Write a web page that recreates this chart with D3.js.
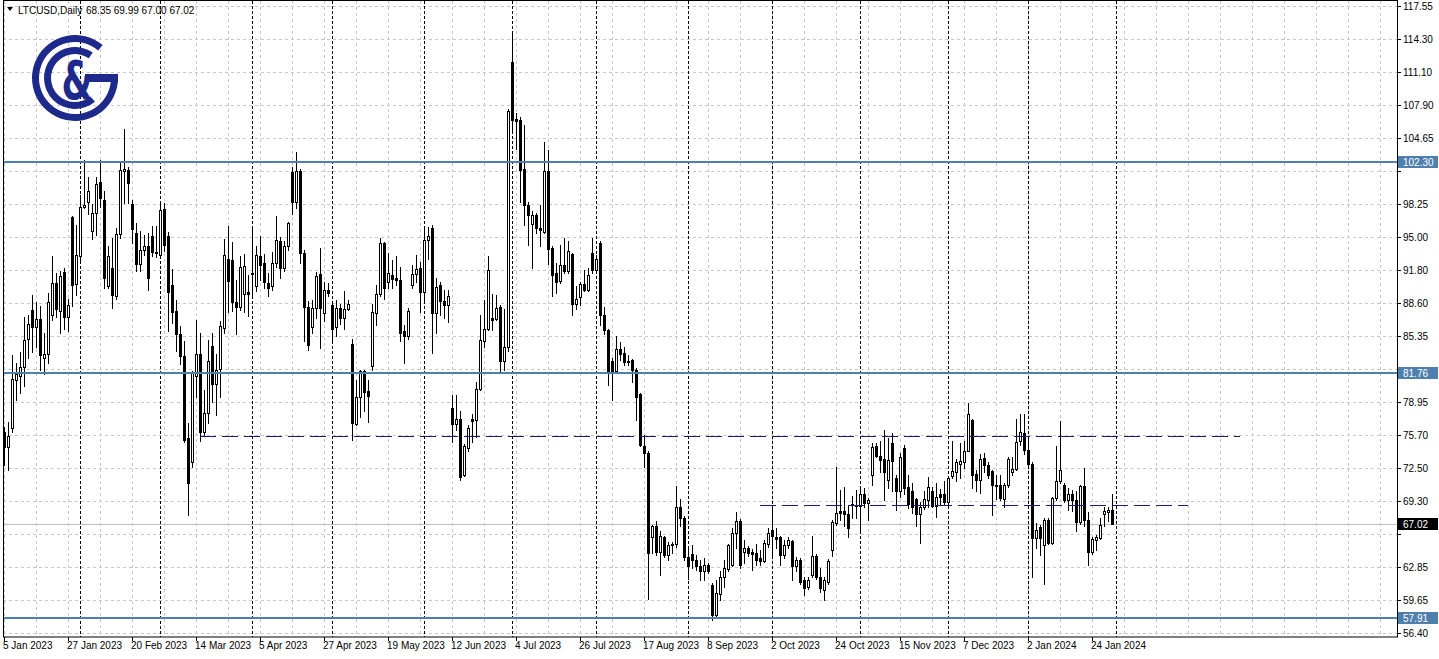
<!DOCTYPE html>
<html><head><meta charset="utf-8">
<script src="https://cdn.jsdelivr.net/npm/d3@7"></script>
<style>
html,body{margin:0;padding:0;background:#fff;overflow:hidden;}
svg{display:block;font-family:"Liberation Sans",Arial,sans-serif;}
</style></head><body>
<svg id="chart" width="1439" height="659"></svg>
<script>
// ---------- data ----------
const symbolName = "LTCUSD,Daily";
const headerValues = ["68.35", "69.99", "67.00", "67.02"];
const firstDay = "2023-01-05";
const lastDay = "2024-01-31";
const holidays = ["2023-12-25", "2024-01-01"];

const open = [76.0,74.5,76.4,81.1,81.4,82.3,85.1,87.9,86.2,87.0,83.2,83.6,87.4,90.5,87.8,91.6,87.2,96.9,90.4,93.1,
97.9,98.4,95.6,97.3,100.4,98.6,90.2,92.0,89.2,95.3,101.4,101.5,98.2,95.4,92.4,93.7,94.1,95.1,93.5,93.2,
97.7,95.1,90.3,87.8,85.5,83.4,75.4,73.1,81.4,83.6,76.0,77.8,84.4,80.7,82.1,86.1,92.9,92.8,88.7,88.2,
89.4,89.6,91.4,90.2,93.1,92.5,90.5,90.2,92.5,94.6,92.0,94.1,101.3,98.4,101.4,93.4,88.2,86.2,88.1,91.4,
87.6,89.8,88.4,86.2,88.1,87.1,88.0,84.6,76.8,79.4,81.9,80.0,82.4,87.6,89.4,94.4,90.6,91.3,91.0,90.8,
85.8,85.3,90.3,91.4,92.0,89.6,94.7,95.9,87.6,90.3,88.8,88.4,78.3,76.8,77.3,71.8,74.4,77.3,77.2,80.2,
84.9,86.0,87.1,87.0,88.2,82.9,84.3,112.1,106.5,106.4,101.6,98.1,96.3,97.1,95.9,95.5,101.4,93.9,91.5,90.7,
92.3,91.7,93.3,88.5,89.1,90.4,89.8,93.4,91.8,94.4,87.4,85.9,82.9,81.9,84.1,83.7,82.9,83.0,82.0,79.7,
74.6,73.9,65.8,66.8,64.3,65.8,64.0,65.0,65.1,68.7,67.6,63.8,64.1,63.5,62.9,62.4,63.0,61.1,58.2,60.2,
61.9,62.6,63.0,66.1,67.3,64.3,64.7,64.3,64.2,63.7,63.4,65.1,66.4,65.8,65.8,64.0,65.0,65.4,62.9,63.5,
61.6,60.9,62.1,63.9,61.9,60.6,61.4,64.5,67.1,68.3,68.3,68.0,68.9,68.9,68.8,69.9,69.1,71.8,74.6,73.7,
73.4,71.3,74.9,71.5,70.2,74.4,70.6,70.2,69.5,68.0,68.7,69.4,70.2,68.8,69.9,69.9,69.2,71.7,72.1,72.9,
73.1,74.1,77.2,71.9,71.3,73.5,72.8,72.2,70.8,70.8,69.5,70.8,72.1,72.4,75.1,75.9,74.2,72.9,65.7,66.7,
65.0,67.4,65.2,69.6,71.2,70.8,69.4,69.9,69.4,67.2,70.7,67.4,64.3,65.5,65.7,68.0,68.2,68.35];
const high = [76.5,77.0,83.5,82.7,83.8,87.2,87.4,89.3,88.7,88.3,85.6,89.5,93.1,91.5,91.7,92.0,89.0,97.0,96.2,99.1,
102.5,100.8,98.2,100.8,102.5,99.5,94.1,94.9,95.9,102.4,105.5,101.8,98.6,96.4,95.6,95.2,95.4,96.1,96.1,98.2,
98.3,95.5,91.9,88.9,86.3,84.9,76.9,81.9,86.9,85.6,80.1,85.0,85.6,83.6,86.8,94.8,96.1,94.5,90.8,93.1,
93.3,91.3,95.9,94.1,95.1,93.3,91.5,93.5,97.0,95.0,94.6,96.5,101.8,103.3,101.6,93.7,88.8,88.9,91.6,93.9,
90.6,90.5,88.7,88.9,88.5,89.7,88.9,85.1,81.1,82.0,82.0,81.1,88.5,90.3,94.9,94.5,93.4,92.8,93.1,92.1,
86.4,88.1,92.3,93.2,92.6,95.9,96.0,96.2,91.0,90.6,89.8,89.8,79.6,79.6,78.0,74.8,76.7,77.7,80.9,87.4,
88.9,93.1,89.4,89.3,88.4,88.0,107.5,115.0,107.1,106.7,105.9,98.4,97.5,97.3,98.1,104.3,103.5,94.1,92.5,94.2,
94.9,94.6,93.4,90.2,90.6,91.8,92.0,94.9,93.2,94.6,88.2,86.0,83.2,85.3,84.8,84.3,83.5,83.1,82.2,79.8,
75.7,74.1,66.9,67.3,66.3,65.9,65.3,65.3,70.7,69.5,67.8,64.8,65.0,64.0,63.5,63.7,63.2,61.3,61.6,62.4,
63.5,65.1,66.6,68.2,67.5,65.5,64.9,64.6,65.1,64.5,65.5,66.6,68.9,66.6,65.9,65.5,65.8,65.5,63.8,63.7,
61.9,61.9,65.9,64.1,62.7,61.9,63.6,67.4,72.6,70.3,70.6,68.9,69.8,70.3,70.5,70.5,69.6,74.9,74.9,75.1,
76.2,75.4,75.9,71.8,73.9,74.7,71.8,71.0,69.6,69.2,70.2,71.6,70.6,71.0,70.4,71.2,71.7,75.1,73.4,74.9,
75.1,78.8,77.3,72.3,73.8,73.9,73.1,72.3,71.8,71.8,71.0,73.6,73.6,77.3,77.7,77.7,75.4,73.1,67.1,66.9,
67.6,67.6,69.7,74.6,77.1,71.0,70.5,70.3,70.2,70.8,72.5,68.2,65.8,66.0,67.6,68.7,68.7,69.99];
const low = [72.8,72.3,76.0,79.1,79.8,80.5,83.2,83.8,84.3,82.0,81.6,82.7,86.9,87.2,85.6,86.0,85.8,88.3,89.3,92.7,
97.8,97.2,94.8,95.2,97.9,90.0,90.0,88.1,89.0,94.9,98.3,98.3,94.4,91.7,91.7,93.2,89.8,93.1,93.0,93.1,
93.6,85.8,86.6,83.9,82.6,75.0,67.9,72.6,79.4,75.1,75.6,76.9,78.9,77.6,79.4,85.6,87.7,87.8,85.5,87.9,
87.7,87.3,89.2,89.7,90.8,90.0,89.2,89.8,92.1,91.0,91.7,93.7,97.2,97.8,92.5,84.9,84.0,85.6,87.1,84.2,
86.8,89.2,85.0,85.3,86.5,86.0,87.9,75.2,76.7,77.5,78.0,77.0,82.0,86.4,89.2,89.0,90.0,90.0,90.3,84.9,
82.7,85.1,90.0,90.6,87.7,88.7,92.9,83.7,85.6,87.4,87.1,86.7,75.0,76.2,71.3,71.7,74.1,75.0,75.5,80.1,
84.3,85.9,85.9,86.9,81.7,82.0,83.9,105.3,103.6,98.4,96.2,94.2,92.0,95.4,94.1,95.4,92.4,89.2,89.5,90.5,
91.5,91.5,87.4,88.0,88.4,89.7,89.7,91.5,91.5,86.4,85.5,80.6,79.1,81.7,83.0,82.5,82.5,80.9,77.2,74.6,
72.6,59.7,64.2,64.0,62.1,63.8,63.5,64.2,64.8,66.8,63.5,61.7,62.7,62.5,61.6,61.6,62.2,57.7,58.0,59.6,
60.9,62.4,62.9,64.7,62.7,63.2,63.9,62.5,63.0,63.0,63.3,64.8,63.7,64.7,63.0,63.7,64.7,61.6,62.4,61.2,
60.1,60.7,61.9,61.7,60.4,59.6,61.2,63.9,66.9,67.4,66.8,65.8,67.6,67.6,66.3,68.7,67.4,70.8,73.6,72.1,
69.4,70.5,70.2,68.4,69.7,69.9,68.6,68.1,66.8,65.2,68.5,68.7,68.7,67.7,68.9,68.9,69.0,71.5,71.2,71.5,
72.5,74.1,70.5,70.2,70.0,72.1,71.5,67.9,69.5,69.4,68.7,70.6,71.8,72.3,74.7,73.8,72.6,61.9,64.7,64.0,
61.2,65.1,65.1,69.4,71.0,69.2,68.4,68.3,66.3,67.0,66.8,63.0,64.1,64.5,65.6,66.8,67.3,67.00];
const close = [74.5,75.6,81.2,81.6,82.3,85.0,86.5,86.2,87.0,83.5,83.6,88.7,90.5,88.0,91.2,87.2,88.4,90.3,93.2,97.9,
98.1,99.5,97.3,100.2,98.8,91.0,93.1,89.3,95.3,101.5,101.6,100.3,95.8,92.4,93.7,94.1,91.0,93.5,93.4,97.6,
94.2,89.6,87.7,85.5,83.4,75.2,71.0,81.7,83.6,76.0,77.8,82.9,80.7,82.0,86.3,93.2,90.7,88.7,88.2,92.1,
92.2,89.4,91.5,93.2,92.3,90.6,90.0,92.5,94.7,92.0,94.1,96.4,98.4,101.4,93.4,88.2,84.5,88.1,91.2,88.1,
89.8,89.5,86.0,88.1,87.1,88.0,88.5,76.9,79.4,81.9,79.9,79.5,87.7,89.4,94.4,90.0,91.5,90.9,90.8,85.6,
85.3,87.8,91.4,91.9,89.6,94.7,95.1,87.6,90.1,88.8,88.4,89.2,76.8,77.3,71.6,74.6,76.4,77.1,80.2,85.0,
86.0,91.8,86.9,88.1,82.9,84.3,107.3,106.4,106.3,101.5,98.1,97.1,97.1,95.9,95.7,101.4,93.8,91.3,90.6,92.3,
91.7,93.6,88.5,89.0,90.4,89.8,91.3,91.8,92.9,87.4,85.9,81.9,81.9,84.1,83.6,82.8,82.8,82.0,79.4,74.7,
73.9,64.2,66.8,64.3,65.9,64.0,65.0,65.1,68.7,67.6,63.8,62.9,63.5,62.9,62.4,63.0,62.4,58.2,60.3,61.9,
62.7,65.0,66.1,67.3,63.0,64.7,64.2,64.1,63.5,63.4,65.2,66.1,65.9,65.6,64.0,65.0,65.5,62.9,63.5,61.4,
60.8,61.6,63.9,61.9,60.8,61.6,63.4,67.2,68.1,68.1,68.0,66.6,69.0,68.8,69.9,69.1,69.4,74.5,73.7,73.3,
72.1,73.3,73.2,70.2,73.6,70.5,69.0,68.7,68.0,68.7,69.5,70.6,68.8,69.7,69.7,69.2,71.5,72.2,73.1,73.2,
74.1,77.7,71.8,71.3,73.4,72.8,71.8,70.8,70.7,69.6,70.8,73.4,72.4,75.0,76.0,74.2,72.9,65.7,66.4,65.7,
67.4,65.2,69.6,71.2,72.3,69.4,69.9,69.4,67.2,70.7,67.4,64.3,65.6,65.8,66.9,68.3,68.35,67.02];

const priceTicks = [117.55,114.30,111.10,107.90,104.65,101.45,98.25,95.00,91.80,88.60,85.35,82.15,78.95,75.70,72.50,69.30,66.05,62.85,59.65,56.40];
const dateTickLabels = ["5 Jan 2023","27 Jan 2023","20 Feb 2023","14 Mar 2023","5 Apr 2023","27 Apr 2023","19 May 2023","12 Jun 2023","4 Jul 2023","26 Jul 2023","17 Aug 2023","8 Sep 2023","2 Oct 2023","24 Oct 2023","15 Nov 2023","7 Dec 2023","2 Jan 2024","24 Jan 2024"];
const supportResistance = [102.30, 81.76, 57.91];
const lastPrice = 67.02;
const trendLevels = [
  {value: 75.62, fromBar: 49, toBar: 309},
  {value: 68.85, fromBar: 189, toBar: 296}
];

// ---------- build dates (trading days) ----------
const parse = d3.utcParse("%Y-%m-%d");
const fmtKey = d3.utcFormat("%Y-%m-%d");
const dates = d3.utcDay.range(parse(firstDay), d3.utcDay.offset(parse(lastDay), 1))
  .filter(d => d.getUTCDay() !== 0 && d.getUTCDay() !== 6 && !holidays.includes(fmtKey(d)));
const bars = dates.map((d, i) => ({date: d, i, o: open[i], h: high[i], l: low[i], c: close[i]}));

// ---------- layout ----------
const W = 1439, H = 659;
const plotL = 3, plotR = 1397, plotT = 1, plotB = 637;
const svg = d3.select("#chart");
const x = d3.scaleLinear().domain([0, 348.25]).range([4, 1397]);
const y = d3.scaleLinear().domain([56.40, 117.55]).range([633, 5.6]);
const px = v => Math.round(x(v));
const py = v => Math.round(y(v));

svg.append("rect").attr("width", W).attr("height", H).attr("fill", "#fff");

svg.append("clipPath").attr("id", "plotclip").append("rect")
  .attr("x", plotL).attr("y", plotT).attr("width", plotR - plotL).attr("height", plotB - plotT);
const plot = svg.append("g").attr("clip-path", "url(#plotclip)");

// grid
const gridColor = "#c8c8c8";
plot.selectAll("line.hgrid").data(priceTicks).join("line")
  .attr("x1", plotL).attr("x2", plotR)
  .attr("y1", d => py(d) + 0.5).attr("y2", d => py(d) + 0.5)
  .attr("stroke", gridColor).attr("stroke-dasharray", "3,3").attr("stroke-width", 1);
const vgrid = d3.range(0, 349, 8);
plot.selectAll("line.vgrid").data(vgrid).join("line")
  .attr("x1", d => px(d) + 0.5).attr("x2", d => px(d) + 0.5)
  .attr("y1", plotT).attr("y2", plotB)
  .attr("stroke", gridColor).attr("stroke-dasharray", "3,3").attr("stroke-width", 1);

// month separators
const sepIdx = [];
bars.forEach((b, i) => { if (i > 0 && b.date.getUTCMonth() !== bars[i - 1].date.getUTCMonth()) sepIdx.push(i); });
sepIdx.push(bars.length); // next month start (Feb 2024)
plot.selectAll("line.sep").data(sepIdx).join("line")
  .attr("x1", d => px(d) + 0.5).attr("x2", d => px(d) + 0.5)
  .attr("y1", plotT).attr("y2", plotB)
  .attr("stroke", "#000").attr("stroke-dasharray", "3,2").attr("stroke-width", 1);

// last price line
plot.append("line").attr("x1", plotL).attr("x2", plotR)
  .attr("y1", py(lastPrice) + 0.5).attr("y2", py(lastPrice) + 0.5)
  .attr("stroke", "#c0c0c0").attr("stroke-width", 1);

// candles
const cg = plot.append("g");
const candle = cg.selectAll("g.c").data(bars).join("g");
candle.append("line")
  .attr("x1", d => px(d.i) + 0.5).attr("x2", d => px(d.i) + 0.5)
  .attr("y1", d => py(d.h)).attr("y2", d => py(d.l) + 1)
  .attr("stroke", "#000").attr("stroke-width", 1);
candle.each(function(d) {
  const g = d3.select(this);
  const top = py(Math.max(d.o, d.c)), bot = py(Math.min(d.o, d.c));
  const cx = px(d.i);
  if (bot - top < 1) {
    g.append("line").attr("x1", cx - 1).attr("x2", cx + 2)
      .attr("y1", top + 0.5).attr("y2", top + 0.5).attr("stroke", "#000");
  } else {
    g.append("rect").attr("x", cx - 0.5).attr("y", top + 0.5)
      .attr("width", 2).attr("height", bot - top)
      .attr("fill", d.c >= d.o ? "#fff" : "#000").attr("stroke", "#000").attr("stroke-width", 1);
  }
});

// horizontal support/resistance lines
plot.selectAll("line.sr").data(supportResistance).join("line")
  .attr("x1", plotL).attr("x2", plotR)
  .attr("y1", d => py(d)).attr("y2", d => py(d))
  .attr("stroke", "#4f7fad").attr("stroke-width", 2);

// dashed trend levels
plot.selectAll("line.tl").data(trendLevels).join("line")
  .attr("x1", d => px(d.fromBar)).attr("x2", d => px(d.toBar))
  .attr("y1", d => py(d.value) + 0.5).attr("y2", d => py(d.value) + 0.5)
  .attr("stroke", "#1c1c78").attr("stroke-width", 1).attr("stroke-dasharray", "16,6");

// frame
svg.append("rect").attr("x", plotL + 0.5).attr("y", plotT - 0.5).attr("width", plotR - plotL).attr("height", plotB - plotT + 0.5)
  .attr("fill", "none").attr("stroke", "#000").attr("stroke-width", 1);

// right axis
const ra = svg.append("g").attr("font-size", "10px").attr("fill", "#000");
const boxVals = supportResistance.concat([lastPrice]);
priceTicks.forEach(v => {
  const yy = py(v);
  ra.append("line").attr("x1", plotR).attr("x2", plotR + 4).attr("y1", yy + 0.5).attr("y2", yy + 0.5).attr("stroke", "#000");
  const hidden = boxVals.some(b => Math.abs(py(b) - yy) < 11);
  if (!hidden) ra.append("text").attr("x", 1403).attr("y", yy + 4).text(v.toFixed(2));
});
function priceBox(v, bg) {
  const yy = py(v);
  ra.append("rect").attr("x", 1398).attr("y", yy - 6).attr("width", 40).attr("height", 12).attr("fill", bg);
  ra.append("text").attr("x", 1403).attr("y", yy + 4).attr("fill", "#fff").text(v.toFixed(2));
}
supportResistance.forEach(v => priceBox(v, "#4f7fad"));
priceBox(lastPrice, "#000");

// bottom axis
const ba = svg.append("g").attr("font-size", "10px").attr("fill", "#000");
dateTickLabels.forEach((t, k) => {
  const xx = px(k * 16);
  ba.append("line").attr("x1", xx + 0.5).attr("x2", xx + 0.5).attr("y1", plotB).attr("y2", plotB + 4).attr("stroke", "#000");
  ba.append("text").attr("x", xx - 1).attr("y", 649).text(t);
});

// header
const hd = svg.append("g");
hd.append("path").attr("d", "M7,7 L13,7 L10,11 Z").attr("fill", "#000");
hd.append("text").attr("x", 18).attr("y", 14).attr("font-size", "10px").text(symbolName);
hd.append("text").attr("x", 86).attr("y", 14).attr("font-size", "10px").text(headerValues.join(" "));

// logo
const logoColor = "#1d2a8c";
const logo = svg.append("g").attr("transform", "translate(75,78)");
const deg = a => a * Math.PI / 180;
// outer "G" arc, open at upper right
logo.append("path").attr("fill", logoColor)
  .attr("d", d3.arc().innerRadius(36).outerRadius(43)({startAngle: deg(90), endAngle: deg(400)}));
// G crossbar
logo.append("rect").attr("x", 10).attr("y", -4).attr("width", 33).attr("height", 8).attr("fill", logoColor);
// inner "C" arc, open to the right
logo.append("path").attr("fill", logoColor)
  .attr("d", d3.arc().innerRadius(24).outerRadius(31)({startAngle: deg(140), endAngle: deg(395)}));
// ampersand
logo.append("text").attr("fill", logoColor)
  .attr("font-family", "DejaVu Sans").attr("font-weight", "bold").attr("font-size", "54px")
  .attr("text-anchor", "middle")
  .attr("transform", "translate(2,21) scale(0.66,1)").text("&");
</script>
</body></html>
